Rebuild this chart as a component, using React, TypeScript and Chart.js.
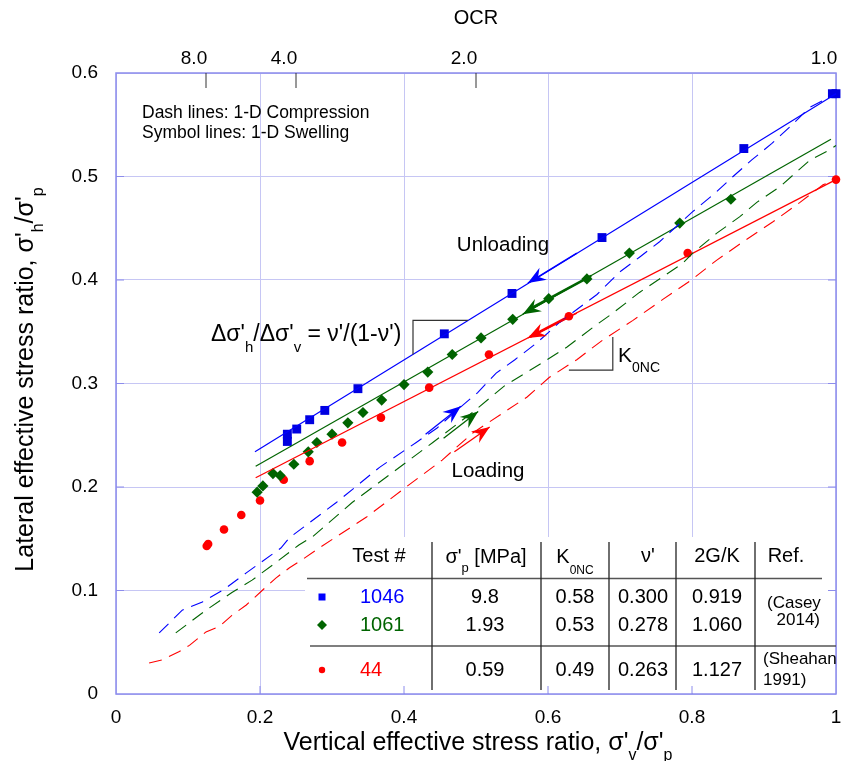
import React, { useEffect, useRef } from 'react';
import { Chart, registerables } from 'chart.js';

Chart.register(...registerables);

const FONT = '"Liberation Sans", Arial, Helvetica, sans-serif';
const BLUE = '#0000ff';
const GREEN = '#006400';
const RED = '#ff0000';
const GRID = '#c6c6f4';
const FRAME = '#8c8cec';

// ---- axes ----
const xTickValues = [0, 0.2, 0.4, 0.6, 0.8, 1.0];
const xTickLabels = ['0', '0.2', '0.4', '0.6', '0.8', '1'];
const yTickValues = [0, 0.1, 0.2, 0.3, 0.4, 0.5, 0.6];
const yTickLabels = ['0', '0.1', '0.2', '0.3', '0.4', '0.5', '0.6'];
const ocrTickValues = [8.0, 4.0, 2.0, 1.0];
const ocrTickLabels = ['8.0', '4.0', '2.0', '1.0'];

// ---- 1-D swelling (symbols) [x = σ'v/σ'p, y = σ'h/σ'p] ----
const swell1046: [number, number][] = [
  [1.0, 0.58], [0.995, 0.58], [0.872, 0.527], [0.675, 0.441], [0.55, 0.387], [0.456, 0.348],
  [0.336, 0.295], [0.29, 0.274], [0.269, 0.265], [0.251, 0.256], [0.238, 0.251], [0.238, 0.244],
];
const swell1061: [number, number][] = [
  [0.854, 0.478], [0.783, 0.455], [0.713, 0.426], [0.654, 0.401], [0.601, 0.382], [0.551, 0.362],
  [0.507, 0.344], [0.467, 0.328], [0.433, 0.311], [0.4, 0.299], [0.369, 0.284], [0.343, 0.272],
  [0.322, 0.262], [0.3, 0.251], [0.279, 0.243], [0.267, 0.234], [0.247, 0.222], [0.228, 0.211],
  [0.218, 0.213], [0.204, 0.201], [0.196, 0.195],
];
const swell44: [number, number][] = [
  [1.0, 0.497], [0.794, 0.426], [0.629, 0.365], [0.518, 0.328], [0.435, 0.296], [0.368, 0.267],
  [0.314, 0.243], [0.269, 0.225], [0.233, 0.207], [0.2, 0.187], [0.174, 0.173], [0.15, 0.159],
  [0.126, 0.143], [0.128, 0.145],
];

// ---- swelling fit lines ----
const fit1046: [number, number][] = [[0.193, 0.234], [1.0, 0.58]];
const fit1061: [number, number][] = [[0.194, 0.22], [0.993, 0.536]];
const fit44: [number, number][] = [[0.194, 0.209], [1.0, 0.497]];

// thick start of unloading paths
const thick1061: [number, number][] = [[0.575, 0.372], [0.66, 0.404]];
const thick44: [number, number][] = [[0.575, 0.345], [0.63, 0.365]];

// ---- 1-D compression (dash lines) ----
const comp1046: [number, number][] = [
  [0.06, 0.059], [0.092, 0.081], [0.12, 0.089], [0.15, 0.101], [0.181, 0.117], [0.229, 0.141],
  [0.241, 0.151], [0.306, 0.185], [0.366, 0.219], [0.417, 0.243], [0.446, 0.257], [0.473, 0.274],
  [0.502, 0.291], [0.528, 0.31], [0.554, 0.323], [0.584, 0.339], [0.616, 0.359], [0.668, 0.386],
  [0.7, 0.408], [0.727, 0.422], [0.755, 0.437], [0.801, 0.466], [0.832, 0.484], [0.857, 0.5],
  [0.883, 0.516], [0.911, 0.532], [0.936, 0.548], [0.964, 0.567], [0.992, 0.577], [1.0, 0.58],
];
const comp1061: [number, number][] = [
  [0.083, 0.059], [0.102, 0.069], [0.125, 0.081], [0.161, 0.098], [0.189, 0.11], [0.222, 0.127],
  [0.254, 0.144], [0.273, 0.152], [0.328, 0.185], [0.384, 0.214], [0.44, 0.243], [0.495, 0.272],
  [0.54, 0.298], [0.592, 0.32], [0.626, 0.335], [0.662, 0.354], [0.69, 0.368], [0.727, 0.388],
  [0.759, 0.403], [0.787, 0.416], [0.801, 0.426], [0.834, 0.445], [0.866, 0.461], [0.89, 0.475],
  [0.922, 0.49], [0.964, 0.516], [0.992, 0.526], [1.0, 0.53],
];
const comp44: [number, number][] = [
  [0.046, 0.03], [0.064, 0.033], [0.088, 0.041], [0.102, 0.047], [0.125, 0.06], [0.143, 0.065],
  [0.161, 0.076], [0.181, 0.086], [0.203, 0.1], [0.222, 0.112], [0.241, 0.122], [0.259, 0.13],
  [0.282, 0.141], [0.348, 0.171], [0.403, 0.2], [0.453, 0.226], [0.495, 0.252], [0.571, 0.287],
  [0.602, 0.306], [0.64, 0.323], [0.676, 0.342], [0.718, 0.361], [0.759, 0.381], [0.797, 0.399],
  [0.834, 0.419], [0.871, 0.437], [0.912, 0.456], [0.95, 0.475], [0.982, 0.492], [1.0, 0.497],
];

// ---- arrows: [tipX, tipY, fromX, fromY] ----
const arrowBlue: number[][] = [[0.572, 0.397, 0.64, 0.426], [0.479, 0.278, 0.43, 0.251]];
const arrowGreen: number[][] = [[0.565, 0.367, 0.63, 0.393], [0.503, 0.273, 0.455, 0.247]];
const arrowRed: number[][] = [[0.572, 0.344, 0.64, 0.368], [0.519, 0.258, 0.47, 0.234]];

// ---- table ----
const tableHeader = ['Test #', "σ'p [MPa]", 'K0NC', "ν'", '2G/K', 'Ref.'];
const testIds = ['1046', '1061', '44'];
const sigmaP = ['9.8', '1.93', '0.59'];
const k0nc = ['0.58', '0.53', '0.49'];
const nu = ['0.300', '0.278', '0.263'];
const twoGK = ['0.919', '1.060', '1.127'];
const testColors = [BLUE, GREEN, RED];

type Part = { t: string; sub?: boolean };

function drawRich(
  ctx: CanvasRenderingContext2D, parts: Part[], x: number, y: number, size: number,
  align: 'left' | 'center' | 'right', color: string, subSize?: number, subDy?: number,
) {
  const ss = subSize ?? Math.round(size * 0.62);
  const sdy = subDy ?? size * 0.38;
  const widths = parts.map((p) => {
    ctx.font = `${p.sub ? ss : size}px ${FONT}`;
    return ctx.measureText(p.t).width;
  });
  const total = widths.reduce((a, b) => a + b, 0);
  let cx = align === 'left' ? x : align === 'center' ? x - total / 2 : x - total;
  ctx.textAlign = 'left';
  ctx.textBaseline = 'alphabetic';
  ctx.fillStyle = color;
  parts.forEach((p, i) => {
    ctx.font = `${p.sub ? ss : size}px ${FONT}`;
    ctx.fillText(p.t, cx, p.sub ? y + sdy : y);
    cx += widths[i];
  });
}

function drawText(ctx: CanvasRenderingContext2D, t: string, x: number, y: number, size: number,
  align: CanvasTextAlign, color = '#000', baseline: CanvasTextBaseline = 'middle') {
  ctx.font = `${size}px ${FONT}`;
  ctx.textAlign = align;
  ctx.textBaseline = baseline;
  ctx.fillStyle = color;
  ctx.fillText(t, x, y);
}

const pts = (a: [number, number][]) => a.map(([x, y]) => ({ x, y }));

const overlayPlugin = {
  id: 'overlay',
  beforeDatasetsDraw(chart: any) {
    const ctx: CanvasRenderingContext2D = chart.ctx;
    const { left, right, top, bottom } = chart.chartArea;
    const xs = chart.scales.x;
    const ys = chart.scales.y;
    ctx.save();
    // table background
    ctx.fillStyle = '#ffffff';
    ctx.fillRect(297, 529, right - 297 - 1, bottom - 529 - 1);
    // frame
    ctx.strokeStyle = FRAME;
    ctx.lineWidth = 1.5;
    ctx.strokeRect(left, top, right - left, bottom - top);
    // inner ticks
    ctx.lineWidth = 1;
    xTickValues.slice(1, -1).forEach((v) => {
      const px = xs.getPixelForValue(v);
      ctx.beginPath(); ctx.moveTo(px, bottom); ctx.lineTo(px, bottom - 8); ctx.stroke();
    });
    yTickValues.slice(1, -1).forEach((v) => {
      const py = ys.getPixelForValue(v);
      ctx.beginPath(); ctx.moveTo(left, py); ctx.lineTo(left + 8, py); ctx.stroke();
      ctx.beginPath(); ctx.moveTo(right, py); ctx.lineTo(right - 8, py); ctx.stroke();
    });
    // OCR ticks (inside, from top)
    ctx.strokeStyle = '#333';
    ocrTickValues.slice(0, -1).forEach((o) => {
      const px = xs.getPixelForValue(1 / o);
      ctx.beginPath(); ctx.moveTo(px, top); ctx.lineTo(px, top + 15); ctx.stroke();
    });
    ctx.restore();
  },
  afterDatasetsDraw(chart: any) {
    const ctx: CanvasRenderingContext2D = chart.ctx;
    const { left, right, top, bottom } = chart.chartArea;
    const xs = chart.scales.x;
    const ys = chart.scales.y;
    const P = (x: number, y: number) => ({ x: xs.getPixelForValue(x), y: ys.getPixelForValue(y) });
    ctx.save();

    // arrows
    const drawArrow = (a: number[], color: string) => {
      const tip = P(a[0], a[1]);
      const from = P(a[2], a[3]);
      ctx.strokeStyle = color;
      ctx.fillStyle = color;
      ctx.lineWidth = 1.3;
      ctx.setLineDash([]);
      ctx.beginPath(); ctx.moveTo(from.x, from.y); ctx.lineTo(tip.x, tip.y); ctx.stroke();
      const ang = Math.atan2(tip.y - from.y, tip.x - from.x);
      ctx.save();
      ctx.translate(tip.x, tip.y);
      ctx.rotate(ang);
      ctx.beginPath();
      ctx.moveTo(0, 0);
      ctx.lineTo(-18, -7);
      ctx.lineTo(-12, 0);
      ctx.lineTo(-18, 7);
      ctx.closePath();
      ctx.fill();
      ctx.restore();
    };
    arrowBlue.forEach((a) => drawArrow(a, BLUE));
    arrowGreen.forEach((a) => drawArrow(a, GREEN));
    arrowRed.forEach((a) => drawArrow(a, RED));

    // annotations
    drawText(ctx, 'Dash lines: 1-D Compression', 134, 105, 17.5, 'left');
    drawText(ctx, 'Symbol lines: 1-D Swelling', 134, 125, 17.5, 'left');
    drawText(ctx, 'Unloading', 495, 237, 20.5, 'center');
    drawText(ctx, 'Loading', 480, 463, 20.5, 'center');

    // slope triangle for swelling
    ctx.strokeStyle = '#333';
    ctx.lineWidth = 1.2;
    const t1 = P(0.4125, 0.361), t2 = P(0.489, 0.361), t3 = P(0.4125, 0.328);
    ctx.beginPath(); ctx.moveTo(t2.x, t2.y); ctx.lineTo(t1.x, t1.y); ctx.lineTo(t3.x, t3.y); ctx.stroke();
    drawRich(ctx, [
      { t: "Δσ'" }, { t: 'h', sub: true }, { t: "/Δσ'" }, { t: 'v', sub: true }, { t: " = ν'/(1-ν')" },
    ], 203, 333, 23, 'left', '#000', 15, 11);

    // K0NC triangle
    const k1 = P(0.629, 0.313), k2 = P(0.69, 0.313), k3 = P(0.69, 0.345);
    ctx.beginPath(); ctx.moveTo(k1.x, k1.y); ctx.lineTo(k2.x, k2.y); ctx.lineTo(k3.x, k3.y); ctx.stroke();
    drawRich(ctx, [{ t: 'K' }, { t: '0NC', sub: true }], 610, 354, 21, 'left', '#000', 14, 10);

    // ---- table ----
    ctx.strokeStyle = '#555';
    ctx.lineWidth = 1.3;
    ctx.beginPath(); ctx.moveTo(299, 570.5); ctx.lineTo(814, 570.5); ctx.stroke();
    ctx.beginPath(); ctx.moveTo(302, 638); ctx.lineTo(right, 638); ctx.stroke();
    ctx.strokeStyle = '#222';
    [424, 533, 601, 668, 747].forEach((vx) => {
      ctx.beginPath(); ctx.moveTo(vx, 534); ctx.lineTo(vx, 682); ctx.stroke();
    });
    const TS = 20;
    drawText(ctx, tableHeader[0], 371, 548, TS, 'center');
    drawRich(ctx, [{ t: "σ'" }, { t: 'p', sub: true }, { t: ' [MPa]' }], 478, 555, TS, 'center', '#000', 13, 9);
    drawRich(ctx, [{ t: 'K' }, { t: '0NC', sub: true }], 567, 555, TS, 'center', '#000', 12, 11);
    drawText(ctx, tableHeader[3], 640, 548, TS, 'center');
    drawText(ctx, tableHeader[4], 709, 548, TS, 'center');
    drawText(ctx, tableHeader[5], 778, 548, TS, 'center');
    const rowY = [589, 617, 662];
    rowY.forEach((ry, i) => {
      drawText(ctx, testIds[i], 352, ry, TS, 'left', testColors[i]);
      drawText(ctx, sigmaP[i], 477, ry, TS, 'center');
      drawText(ctx, k0nc[i], 567, ry, TS, 'center');
      drawText(ctx, nu[i], 635, ry, TS, 'center');
      drawText(ctx, twoGK[i], 709, ry, TS, 'center');
    });
    // table symbols
    ctx.fillStyle = BLUE;
    ctx.fillRect(314 - 3.5, 589 - 3.5, 7, 7);
    ctx.fillStyle = GREEN;
    ctx.beginPath(); ctx.moveTo(314, 617 - 5); ctx.lineTo(319, 617); ctx.lineTo(314, 622); ctx.lineTo(309, 617); ctx.closePath(); ctx.fill();
    ctx.fillStyle = RED;
    ctx.beginPath(); ctx.arc(314, 662, 3.2, 0, Math.PI * 2); ctx.fill();
    // refs
    drawText(ctx, '(Casey', 759, 595, 17, 'left');
    drawText(ctx, '2014)', 812, 612, 17, 'right');
    drawText(ctx, '(Sheahan', 755, 651, 17, 'left');
    drawText(ctx, '1991)', 755, 672, 17, 'left');

    // ---- axis titles ----
    const cxm = (left + right) / 2;
    const cym = (top + bottom) / 2;
    drawRich(ctx, [
      { t: "Vertical effective stress ratio, σ'" }, { t: 'v', sub: true }, { t: "/σ'" }, { t: 'p', sub: true },
    ], cxm + 2, 742, 25, 'center', '#000', 16, 10);
    ctx.save();
    ctx.translate(25, cym - 4);
    ctx.rotate(-Math.PI / 2);
    drawRich(ctx, [
      { t: "Lateral effective stress ratio, σ'" }, { t: 'h', sub: true }, { t: "/σ'" }, { t: 'p', sub: true },
    ], 0, 0, 25, 'center', '#000', 16, 10);
    ctx.restore();
    drawText(ctx, 'OCR', cxm, 16, 20, 'center', '#000', 'alphabetic');
    ctx.restore();
  },
};

export default function App() {
  const ref = useRef<HTMLCanvasElement | null>(null);
  useEffect(() => {
    if (!ref.current) return;
    const lineDs = (label: string, data: [number, number][], color: string, width: number, dash: number[] = []) => ({
      label, data: pts(data), showLine: true, borderColor: color, backgroundColor: color,
      borderWidth: width, borderDash: dash, pointRadius: 0, clip: false as any,
    });
    const chart = new Chart(ref.current, {
      type: 'scatter',
      data: {
        datasets: [
          lineDs('1046 compression', comp1046, BLUE, 1.1, [13, 8]),
          lineDs('1061 compression', comp1061, GREEN, 1.1, [13, 8]),
          lineDs('44 compression', comp44, RED, 1.1, [13, 8]),
          lineDs('1046 swelling fit', fit1046, BLUE, 1.2),
          lineDs('1061 swelling fit', fit1061, GREEN, 1.2),
          lineDs('44 swelling fit', fit44, RED, 1.2),
          lineDs('1061 start', thick1061, GREEN, 2.6),
          lineDs('44 start', thick44, RED, 2.6),
          {
            label: '1046', data: pts(swell1046), showLine: false, pointStyle: 'rect', pointRadius: 6.3,
            backgroundColor: '#0000e0', borderColor: '#0000e0', borderWidth: 0, clip: false as any,
          },
          {
            label: '1061', data: pts(swell1061), showLine: false, pointStyle: 'rectRot', pointRadius: 5.6,
            backgroundColor: GREEN, borderColor: GREEN, borderWidth: 0, clip: false as any,
          },
          {
            label: '44', data: pts(swell44), showLine: false, pointStyle: 'circle', pointRadius: 4.3,
            backgroundColor: RED, borderColor: RED, borderWidth: 0, clip: false as any,
          },
        ],
      },
      options: {
        responsive: false,
        animation: false,
        layout: { padding: { left: 0, right: 12, top: 0, bottom: 0 } },
        plugins: { legend: { display: false }, tooltip: { enabled: false } },
        scales: {
          x: {
            type: 'linear', position: 'bottom', min: 0, max: 1,
            afterBuildTicks: (s: any) => { s.ticks = xTickValues.map((v) => ({ value: v })); },
            ticks: {
              callback: (_v: any, i: number) => xTickLabels[i],
              font: { family: FONT, size: 19 }, color: '#000', padding: 12, maxRotation: 0, autoSkip: false,
            },
            grid: { color: GRID, lineWidth: 1, drawTicks: false },
            border: { display: false },
            afterFit: (s: any) => { s.height = 67; s.paddingLeft = 0; s.paddingRight = 0; },
          },
          x2: {
            type: 'linear', position: 'top', min: 0, max: 1,
            afterBuildTicks: (s: any) => { s.ticks = ocrTickValues.map((o) => ({ value: 1 / o })); },
            ticks: {
              callback: (_v: any, i: number) => ocrTickLabels[i],
              font: { family: FONT, size: 19 }, color: '#000', padding: 3, labelOffset: -12,
              maxRotation: 0, autoSkip: false,
            },
            grid: { display: false, drawTicks: false },
            border: { display: false },
            afterFit: (s: any) => { s.height = 65; s.paddingLeft = 0; s.paddingRight = 0; },
          },
          y: {
            type: 'linear', position: 'left', min: 0, max: 0.6,
            afterBuildTicks: (s: any) => { s.ticks = yTickValues.map((v) => ({ value: v })); },
            ticks: {
              callback: (_v: any, i: number) => yTickLabels[i],
              font: { family: FONT, size: 19 }, color: '#000', padding: 18,
            },
            grid: { color: GRID, lineWidth: 1, drawTicks: false },
            border: { display: false },
            afterFit: (s: any) => { s.width = 108; s.paddingTop = 0; s.paddingBottom = 0; },
          },
        },
      },
      plugins: [overlayPlugin],
    } as any);
    return () => chart.destroy();
  }, []);
  return (
    <div style={{ width: 840, height: 753 }}>
      <canvas ref={ref} width={840} height={753} style={{ display: 'block' }} />
    </div>
  );
}
